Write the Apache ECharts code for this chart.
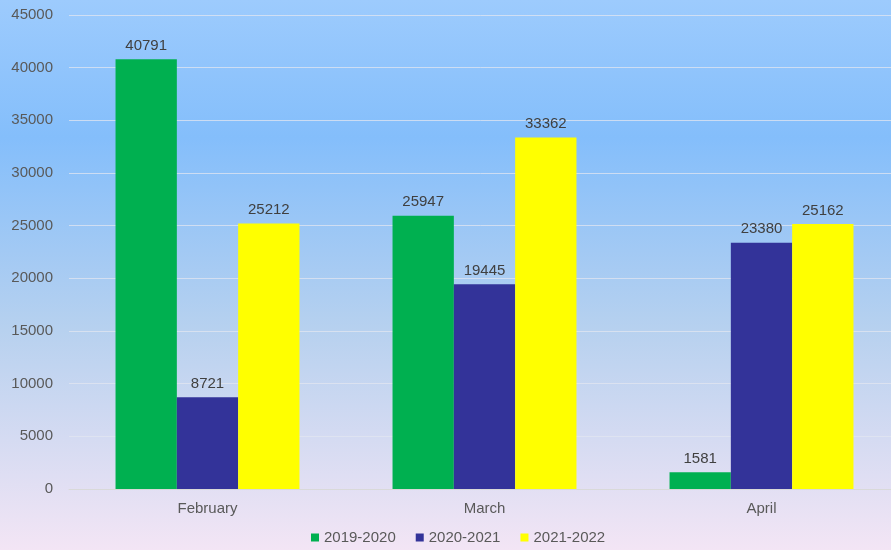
<!DOCTYPE html>
<html>
<head>
<meta charset="utf-8">
<script src="https://cdn.jsdelivr.net/npm/echarts@6/dist/echarts.min.js"></script>
<style>
  html, body { margin: 0; padding: 0; }
  #chart { width: 891px; height: 550px; }
</style>
</head>
<body>
<div id="chart"></div>
<script>
const months = ['February', 'March', 'April'];
const seasonNames = ['2019-2020', '2020-2021', '2021-2022'];
const values1920 = [40791, 25947, 1581];
const values2021 = [8721, 19445, 23380];
const values2122 = [25212, 33362, 25162];
const seriesColors = ['#00b050', '#333399', '#ffff00'];

const chart = echarts.init(document.getElementById('chart'));

const allValues = [values1920, values2021, values2122];

const option = {
  backgroundColor: {
    type: 'linear', x: 0, y: 0, x2: 0, y2: 1,
    colorStops: [
      { offset: 0, color: '#9dcbfd' },
      { offset: 0.25, color: '#84befb' },
      { offset: 0.6, color: '#b7d1ef' },
      { offset: 1, color: '#f3e5f5' }
    ]
  },
  textStyle: { fontFamily: 'Liberation Sans, Arial, sans-serif' },
  grid: { left: 69, width: 831, top: 15, bottom: 61, outerBoundsMode: 'none', containLabel: false },
  legend: {
    bottom: 0,
    left: 306,
    itemWidth: 8,
    itemHeight: 8,
    itemGap: 20,
    icon: 'rect',
    textStyle: { color: '#595959', fontSize: 15 },
    data: seasonNames
  },
  xAxis: {
    type: 'category',
    data: months,
    axisLine: { show: true, lineStyle: { color: '#d9d9d9' } },
    axisTick: { show: false },
    axisLabel: { color: '#595959', fontSize: 15, margin: 12 }
  },
  yAxis: {
    type: 'value',
    min: 0,
    max: 45000,
    interval: 5000,
    axisLine: { show: false },
    axisTick: { show: false },
    axisLabel: { color: '#595959', fontSize: 15, margin: 16, formatter: v => String(v) },
    splitLine: { lineStyle: { color: 'rgba(225,230,240,0.75)' } }
  },
  series: seasonNames.map((name, i) => ({
    name: name,
    type: 'bar',
    data: allValues[i],
    barGap: '0%',
    barCategoryGap: '33.6%',
    itemStyle: { color: seriesColors[i] },
    label: {
      show: true,
      position: 'top',
      distance: 6,
      color: '#404040',
      fontSize: 15
    }
  }))
};

chart.setOption(option);
</script>
</body>
</html>
